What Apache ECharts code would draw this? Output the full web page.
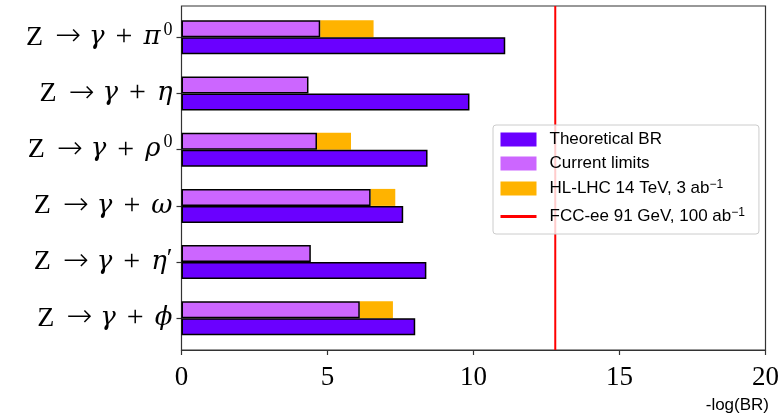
<!DOCTYPE html>
<html>
<head>
<meta charset="utf-8">
<script src="https://cdn.jsdelivr.net/npm/echarts@6/dist/echarts.min.js"></script>
<style>
  html, body { margin: 0; padding: 0; background: #fff; }
  #chart { width: 782px; height: 417px; }
</style>
</head>
<body>
<div id="chart"></div>
<script>
// Decay channels Z -> gamma + meson, top to bottom
const mesonSymbols = ['π', 'η', 'ρ', 'ω', 'η', 'ϕ'];
const mesonSuffix  = ['0', '', '0', '', '′', ''];
const mesonSuffixSup = [true, false, true, false, false, false];

// -log10(BR) values
const theoreticalBR = [11.04, 9.82, 8.39, 7.56, 8.35, 7.97];
const currentLimits = [4.73, 4.33, 4.62, 6.45, 4.41, 6.08];
const hlLhcReach    = [6.55, null, 5.78, 7.29, null, 7.21];
const fccEeReach    = 12.8;

const xTicks = { min: 0, max: 20, interval: 5 };

const seriesNames = {
  theo: 'Theoretical BR',
  cur: 'Current limits',
  hl: 'HL-LHC 14 TeV, 3 ab-1',
  fcc: 'FCC-ee 91 GeV, 100 ab-1'
};

const categories = mesonSymbols.map((s, i) => 'c' + i);

// HL-LHC bar is drawn as the part extending past the current limit
const hlExtension = hlLhcReach.map((v, i) => v == null ? null : +(v - currentLimits[i]).toFixed(3));

const serif = "'Liberation Serif', 'DejaVu Serif', serif";
const greek = "'DejaVu Serif', serif";
const sans = "'Liberation Sans', Arial, sans-serif";

const chart = echarts.init(document.getElementById('chart'), null, { renderer: 'canvas' });

const option = {
  animation: false,
  backgroundColor: '#ffffff',
  title: {
    text: '-log(BR)',
    right: 13,
    top: 397,
    padding: 0,
    textStyle: { fontFamily: sans, fontSize: 17, fontWeight: 'normal', color: '#000' }
  },
  legend: {
    orient: 'vertical',
    left: 493,
    top: 125,
    padding: [6, 14, 6, 6],
    itemWidth: 36,
    itemHeight: 14,
    itemGap: 7,
    backgroundColor: 'rgba(255,255,255,0.8)',
    borderColor: '#cccccc',
    borderWidth: 1,
    borderRadius: 3,
    z: 10,
    itemStyle: { borderWidth: 0 },
    data: [
      { name: seriesNames.theo, icon: 'rect' },
      { name: seriesNames.cur, icon: 'rect' },
      { name: seriesNames.hl, icon: 'rect' },
      { name: seriesNames.fcc, itemStyle: { opacity: 0 }, lineStyle: { width: 3 } }
    ],
    formatter: function (name) {
      if (name.endsWith('ab-1')) {
        return '{t|' + name.slice(0, -2) + '}{s|−1}';
      }
      return '{t|' + name + '}';
    },
    textStyle: {
      padding: [0, 0, 0, 8],
      rich: {
        t: { fontFamily: sans, fontSize: 17, lineHeight: 19, color: '#000' },
        s: { fontFamily: sans, fontSize: 12, lineHeight: 19, color: '#000', verticalAlign: 'top', padding: [0, 0, 9, 0] }
      }
    }
  },
  grid: [
    { left: 181.5, right: 14, top: 6, bottom: 67, show: true, borderColor: '#333', borderWidth: 1.2, backgroundColor: 'transparent' },
    { left: 181.5, right: 14, top: 9.2, bottom: 70.6 }
  ],
  xAxis: [
    {
      gridIndex: 0, type: 'value', min: xTicks.min, max: xTicks.max, interval: xTicks.interval,
      axisLine: { show: true, lineStyle: { color: '#333', width: 1.2 } },
      axisTick: { show: true, inside: false, length: 5, lineStyle: { color: '#333', width: 1.2 } },
      splitLine: { show: false },
      axisLabel: { fontFamily: serif, fontSize: 27, color: '#000', margin: 14 }
    },
    {
      gridIndex: 1, type: 'value', min: xTicks.min, max: xTicks.max,
      show: false, splitLine: { show: false }
    }
  ],
  yAxis: [
    {
      gridIndex: 0, type: 'value', min: 0, max: 1, show: false, splitLine: { show: false }
    },
    {
      gridIndex: 1, type: 'category', inverse: true, data: categories,
      axisLine: { show: false },
      axisTick: { show: true, inside: false, length: 5, alignWithLabel: true, lineStyle: { color: '#333', width: 1.2 } },
      axisLabel: {
        margin: 9,
        formatter: function (v) {
          const i = categories.indexOf(v);
          let s = '{z|Z}{a|→}{i|γ}{p|+}{i|' + mesonSymbols[i] + '}';
          if (mesonSuffix[i]) {
            s += mesonSuffixSup[i] ? '{s|' + mesonSuffix[i] + '}' : '{n|' + mesonSuffix[i] + '}';
          }
          return s;
        },
        rich: {
          z: { fontFamily: serif, fontSize: 28, color: '#000', padding: [0, 12, 0, 0] },
          a: { fontFamily: "'DejaVu Sans', sans-serif", fontSize: 31, fontWeight: 200, color: '#000', padding: [0, 8, 0, 0] },
          n: { fontFamily: serif, fontSize: 26, color: '#000', padding: [0, 0, 6, 0] },
          p: { fontFamily: serif, fontSize: 30, color: '#000', padding: [0, 11, 0, 11] },
          i: { fontFamily: greek, fontSize: 26, fontStyle: 'italic', color: '#000' },
          s: { fontFamily: serif, fontSize: 18, color: '#000', verticalAlign: 'top', padding: [0, 0, 15, 3] }
        }
      }
    }
  ],
  series: [
    {
      name: seriesNames.cur, type: 'bar', xAxisIndex: 1, yAxisIndex: 1, stack: 'lim',
      data: currentLimits, barWidth: 17, barGap: '0%',
      itemStyle: { color: '#cc66ff', borderColor: '#000', borderWidth: 1.5 },
      z: 3
    },
    {
      name: seriesNames.hl, type: 'bar', xAxisIndex: 1, yAxisIndex: 1, stack: 'lim',
      data: hlExtension, barWidth: 17, barGap: '0%',
      itemStyle: { color: '#ffb300' },
      z: 2
    },
    {
      name: seriesNames.theo, type: 'bar', xAxisIndex: 1, yAxisIndex: 1,
      data: theoreticalBR, barWidth: 17, barGap: '0%',
      itemStyle: { color: '#6a00ff', borderColor: '#000', borderWidth: 1.5 },
      z: 3
    },
    {
      name: seriesNames.fcc, type: 'line', xAxisIndex: 0, yAxisIndex: 0,
      data: [[fccEeReach, 0], [fccEeReach, 1]],
      symbol: 'none',
      lineStyle: { color: '#ff0000', width: 2 },
      itemStyle: { color: '#ff0000' },
      z: 4
    }
  ]
};

chart.setOption(option);
</script>
</body>
</html>
